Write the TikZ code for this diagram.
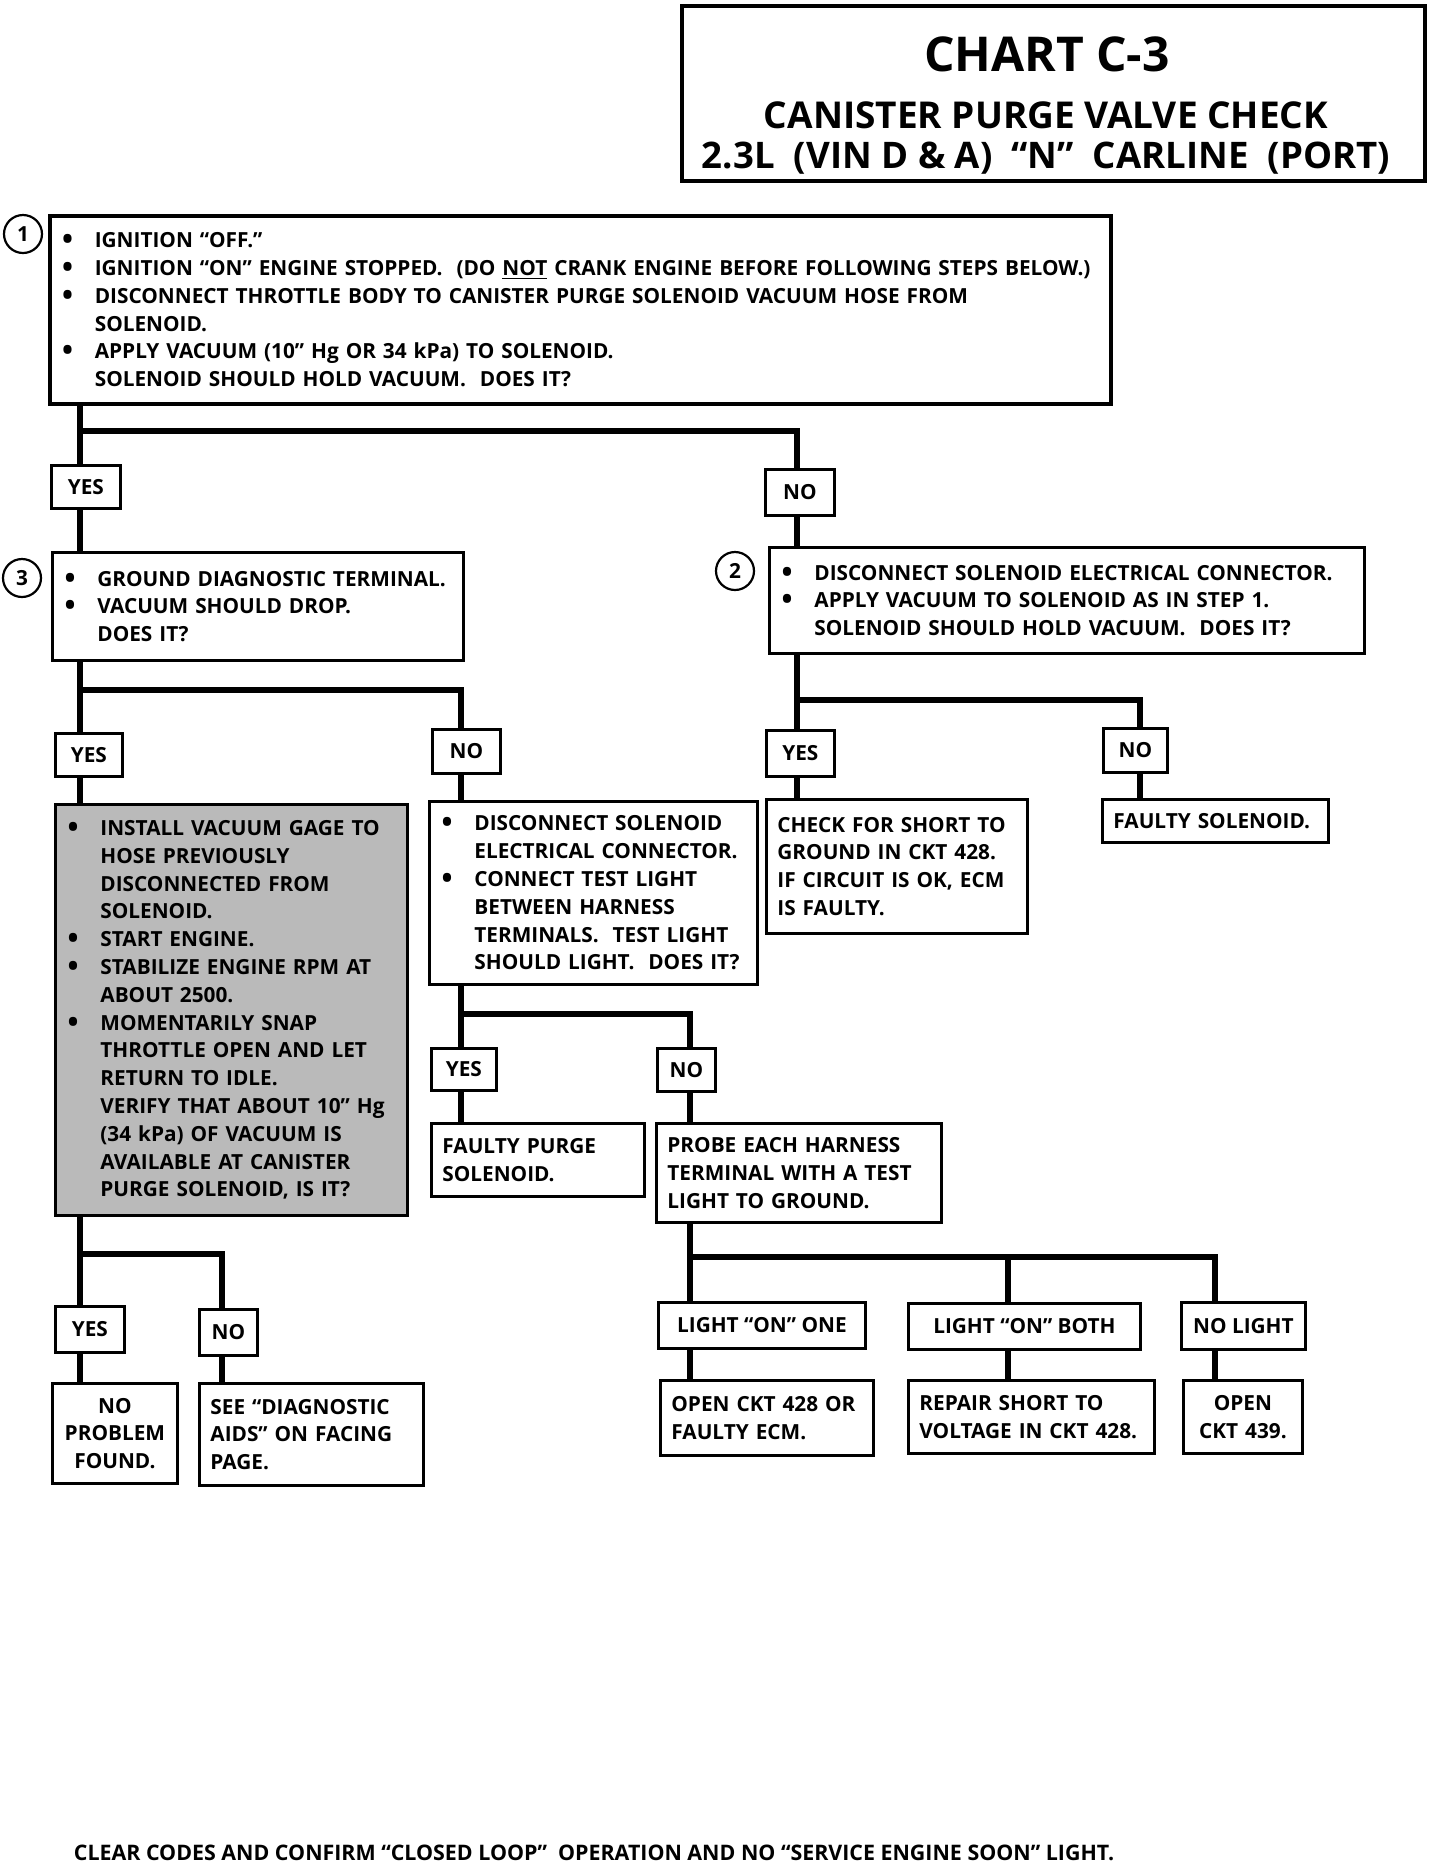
\documentclass[tikz,border=0pt]{standalone}
\usepackage{fontspec}
\usepackage{graphicx}
\setmainfont{Open Sans}
\newcommand\tf{\bfseries\fontsize{10.4}{13.9}\selectfont}
\newcommand\bl[1]{\mbox{\makebox[17pt][l]{\hspace{0.6pt}\raisebox{-0.1em}{\scalebox{1.4}{\textbullet}}}#1}}
\newcommand\il[1]{\mbox{\hspace*{17pt}#1}}
\newcommand\pl[1]{\mbox{#1}}
\begin{document}
\begin{tikzpicture}[x=0.5pt,y=-0.5pt,
  conn/.style={line width=3.4pt},
  bx/.style={draw,line width=1.4pt,anchor=north west,inner xsep=5.5pt,inner ysep=0pt,align=left,font=\tf},
  lbl/.style={draw,line width=1.4pt,inner sep=0pt,anchor=north west,font=\tf},
  num/.style={draw,circle,line width=1.1pt,minimum size=19pt,inner sep=0pt,font=\tf}]
\fill[white] (0,0) rectangle (1440,1870);
\useasboundingbox (0,0) rectangle (1440,1870);
% title
\node[draw,line width=1.8pt,anchor=north west,minimum width=371.5pt,minimum height=87.5pt,inner sep=0pt] (title) at (680,4) {};
\node[anchor=base,font=\bfseries\fontsize{24}{24}\selectfont] (t1) at (1047,71) {CHART C-3};
\node[anchor=base,font=\bfseries\fontsize{18.5}{18.5}\selectfont] (t2) at (1046,128) {CANISTER PURGE VALVE CHECK};
\node[anchor=base,font=\bfseries\fontsize{18.3}{18.3}\selectfont] (t3) at (1046,168) {2.3L\ \ (VIN D \& A)\ \ “N”\ \ CARLINE\ \ (PORT)};
% step 1
\node[bx,text width=519.5pt,minimum height=94pt,line width=1.8pt] (box1) at (48,214) {%
\bl{IGNITION “OFF.”}\\
\bl{IGNITION “ON” ENGINE STOPPED.\ \ (DO \underline{NOT} CRANK ENGINE BEFORE FOLLOWING STEPS BELOW.)}\\
\bl{DISCONNECT THROTTLE BODY TO CANISTER PURGE SOLENOID VACUUM HOSE FROM}\\
\il{SOLENOID.}\\
\bl{APPLY VACUUM (10” Hg OR 34 kPa) TO SOLENOID.}\\
\il{SOLENOID SHOULD HOLD VACUUM.\ \ DOES IT?}};
\node[num] (c1) at (23,234) {1};
\node[lbl,minimum width=34.5pt,minimum height=21.5pt] (yes1) at (50,464) {YES};
\node[lbl,minimum width=34.5pt,minimum height=23pt] (no1) at (764,468) {NO};
% step 3
\node[bx,text width=194.5pt,minimum height=54pt] (box3) at (51,551) {%
\bl{GROUND DIAGNOSTIC TERMINAL.}\\
\bl{VACUUM SHOULD DROP.}\\
\il{DOES IT?}};
\node[num] (c3) at (22,578) {3};
% step 2
\node[bx,text width=286.5pt,minimum height=53pt] (box2) at (768,546) {%
\bl{DISCONNECT SOLENOID ELECTRICAL CONNECTOR.}\\
\bl{APPLY VACUUM TO SOLENOID AS IN STEP 1.}\\
\il{SOLENOID SHOULD HOLD VACUUM.\ \ DOES IT?}};
\node[num] (c2) at (735,571) {2};
\node[lbl,minimum width=33.5pt,minimum height=21.5pt] (yes3) at (54,732) {YES};
\node[lbl,minimum width=34pt,minimum height=22pt] (no3) at (431,728) {NO};
\node[lbl,minimum width=34pt,minimum height=23pt] (yes2) at (765,729) {YES};
\node[lbl,minimum width=32pt,minimum height=22pt] (no2) at (1102,727) {NO};
% third row
\node[bx,fill=black!27,text width=165pt,minimum height=205.5pt] (gray) at (54,803) {%
\bl{INSTALL VACUUM GAGE TO}\\
\il{HOSE PREVIOUSLY}\\
\il{DISCONNECTED FROM}\\
\il{SOLENOID.}\\
\bl{START ENGINE.}\\
\bl{STABILIZE ENGINE RPM AT}\\
\il{ABOUT 2500.}\\
\bl{MOMENTARILY SNAP}\\
\il{THROTTLE OPEN AND LET}\\
\il{RETURN TO IDLE.}\\
\il{VERIFY THAT ABOUT 10” Hg}\\
\il{(34 kPa) OF VACUUM IS}\\
\il{AVAILABLE AT CANISTER}\\
\il{PURGE SOLENOID, IS IT?}};
\node[bx,text width=153pt,minimum height=91.5pt] (mid) at (428,800) {%
\bl{DISCONNECT SOLENOID}\\
\il{ELECTRICAL CONNECTOR.}\\
\bl{CONNECT TEST LIGHT}\\
\il{BETWEEN HARNESS}\\
\il{TERMINALS.\ \ TEST LIGHT}\\
\il{SHOULD LIGHT.\ \ DOES IT?}};
\node[bx,text width=119.5pt,minimum height=67pt] (check) at (765,798) {%
\pl{CHECK FOR SHORT TO}\\
\pl{GROUND IN CKT 428.}\\
\pl{IF CIRCUIT IS OK, ECM}\\
\pl{IS FAULTY.}};
\node[bx,text width=102pt,minimum height=21.5pt] (faultysol) at (1101,798) {\pl{FAULTY SOLENOID.}};
\node[lbl,minimum width=32.5pt,minimum height=21pt] (yes4) at (430,1047) {YES};
\node[lbl,minimum width=29pt,minimum height=21.5pt] (no4) at (656,1047) {NO};
\node[bx,text width=95.5pt,minimum height=36.5pt] (faultypurge) at (430,1122) {%
\pl{FAULTY PURGE}\\
\pl{SOLENOID.}};
\node[bx,text width=131.5pt,minimum height=49.5pt] (probe) at (655,1122) {%
\pl{PROBE EACH HARNESS}\\
\pl{TERMINAL WITH A TEST}\\
\pl{LIGHT TO GROUND.}};
\node[lbl,minimum width=34.5pt,minimum height=23pt] (yes5) at (54,1305) {YES};
\node[lbl,minimum width=29pt,minimum height=23pt] (no5) at (198,1308) {NO};
\node[bx,align=center,text width=51.5pt,minimum height=50pt] (noprob) at (51,1382) {%
\pl{NO}\\
\pl{PROBLEM}\\
\pl{FOUND.}};
\node[bx,text width=101pt,minimum height=51pt] (seediag) at (198,1382) {%
\pl{SEE “DIAGNOSTIC}\\
\pl{AIDS” ON FACING}\\
\pl{PAGE.}};
\node[lbl,minimum width=103.5pt,minimum height=23pt] (lone) at (657,1301) {LIGHT “ON” ONE};
\node[lbl,minimum width=116pt,minimum height=23pt] (lboth) at (907,1302) {LIGHT “ON” BOTH};
\node[lbl,minimum width=62pt,minimum height=23.5pt] (nolight) at (1180,1301) {NO LIGHT};
\node[bx,text width=95.5pt,minimum height=37.5pt] (open428) at (659,1379) {%
\pl{OPEN CKT 428 OR}\\
\pl{FAULTY ECM.}};
\node[bx,text width=112pt,minimum height=36.5pt] (repair) at (907,1379) {%
\pl{REPAIR SHORT TO}\\
\pl{VOLTAGE IN CKT 428.}};
\node[bx,align=center,text width=48.5pt,minimum height=36.5pt] (open439) at (1182,1379) {%
\pl{OPEN}\\
\pl{CKT 439.}};
\node[anchor=base,font=\bfseries\fontsize{10.7}{12}\selectfont] (foot) at (594,1860) {CLEAR CODES AND CONFIRM “CLOSED LOOP”\ \ OPERATION AND NO “SERVICE ENGINE SOON” LIGHT.};
% columns and branch levels
\coordinate (cL) at (80,0);
\coordinate (cN1) at (797,0);
\coordinate (cN2) at (1140,0);
\coordinate (cN3) at (461,0);
\coordinate (cN4) at (690,0);
\coordinate (cN5) at (222,0);
\coordinate (cB) at (1008,0);
\coordinate (cC) at (1215,0);
\coordinate (h1) at (0,431);
\coordinate (h2) at (0,700);
\coordinate (h3) at (0,690);
\coordinate (h4) at (0,1014);
\coordinate (h5) at (0,1254);
\coordinate (h6) at (0,1257);
% connectors
\draw[conn] (box1.south -| cL) -- (yes1.north -| cL);
\draw[conn] (yes1.south -| cL) -- (box3.north -| cL);
\draw[conn] (cL |- h1) -| (no1.north -| cN1);
\draw[conn] (no1.south -| cN1) -- (box2.north -| cN1);
\draw[conn] (box3.south -| cL) -- (yes3.north -| cL);
\draw[conn] (yes3.south -| cL) -- (gray.north -| cL);
\draw[conn] (cL |- h3) -| (no3.north -| cN3);
\draw[conn] (no3.south -| cN3) -- (mid.north -| cN3);
\draw[conn] (box2.south -| cN1) -- (yes2.north -| cN1);
\draw[conn] (yes2.south -| cN1) -- (check.north -| cN1);
\draw[conn] (cN1 |- h2) -| (no2.north -| cN2);
\draw[conn] (no2.south -| cN2) -- (faultysol.north -| cN2);
\draw[conn] (mid.south -| cN3) -- (yes4.north -| cN3);
\draw[conn] (yes4.south -| cN3) -- (faultypurge.north -| cN3);
\draw[conn] (cN3 |- h4) -| (no4.north -| cN4);
\draw[conn] (no4.south -| cN4) -- (probe.north -| cN4);
\draw[conn] (gray.south -| cL) -- (yes5.north -| cL);
\draw[conn] (yes5.south -| cL) -- (noprob.north -| cL);
\draw[conn] (cL |- h5) -| (no5.north -| cN5);
\draw[conn] (no5.south -| cN5) -- (seediag.north -| cN5);
\draw[conn] (probe.south -| cN4) -- (lone.north -| cN4);
\draw[conn] (lone.south -| cN4) -- (open428.north -| cN4);
\draw[conn] (cN4 |- h6) -| (nolight.north -| cC);
\draw[conn] (cB |- h6) -- (lboth.north -| cB);
\draw[conn] (lboth.south -| cB) -- (repair.north -| cB);
\draw[conn] (nolight.south -| cC) -- (open439.north -| cC);
\end{tikzpicture}
\end{document}
